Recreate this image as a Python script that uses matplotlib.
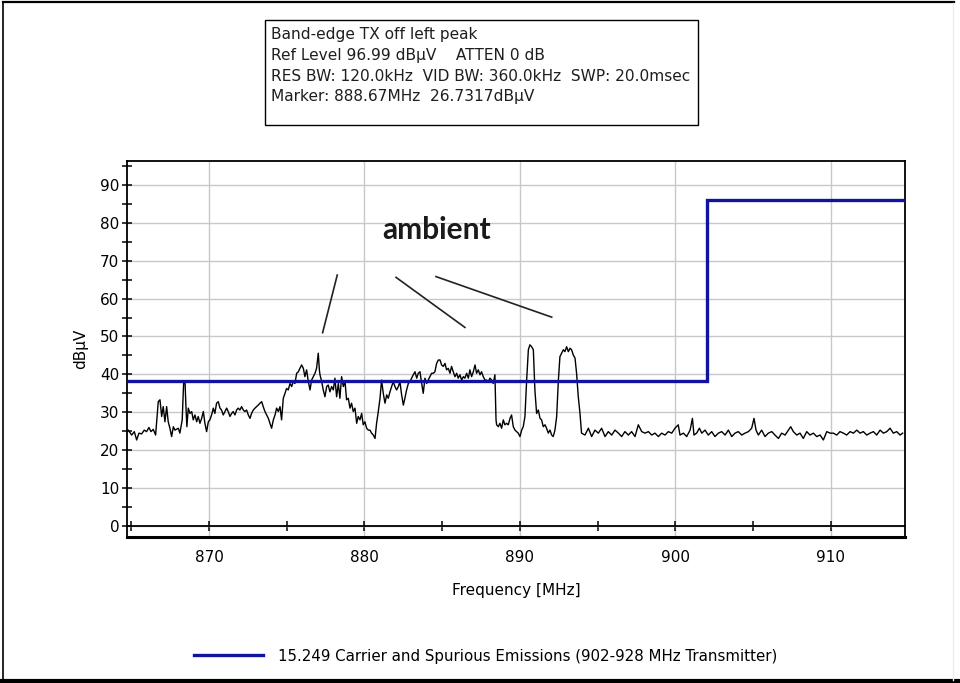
import matplotlib
matplotlib.use("Agg")
import matplotlib.pyplot as plt
from matplotlib.patches import Rectangle
from matplotlib.lines import Line2D
from matplotlib.ticker import MultipleLocator

plt.rcParams['font.family'] = ['DejaVu Sans']

# --- measured trace (MHz, dBuV) ---
freq = [864.81, 865.03, 865.20, 865.35, 865.50, 865.67, 865.84, 865.99, 866.14, 866.27,
        866.42, 866.57, 866.74, 866.85, 866.96, 867.06, 867.17, 867.28, 867.38, 867.49,
        867.60, 867.71, 867.81, 868.03, 868.13, 868.28, 868.37, 868.46, 868.52, 868.58,
        868.67, 868.78, 868.89, 868.99, 869.10, 869.21, 869.31, 869.42, 869.53, 869.64,
        869.74, 869.85, 869.96, 870.06, 870.17, 870.28, 870.38, 870.49, 870.60, 870.71,
        870.81, 870.92, 871.03, 871.14, 871.24, 871.35, 871.46, 871.56, 871.67, 871.78,
        871.88, 871.99, 872.10, 872.21, 872.31, 872.42, 872.53, 872.64, 872.74, 872.85,
        872.96, 873.07, 873.17, 873.28, 873.39, 873.49, 873.60, 873.71, 873.82, 873.92,
        874.03, 874.14, 874.25, 874.35, 874.46, 874.57, 874.67, 874.78, 874.89, 874.99,
        875.10, 875.21, 875.32, 875.42, 875.53, 875.64, 875.75, 875.85, 875.96, 876.07,
        876.17, 876.28, 876.39, 876.50, 876.60, 876.71, 876.82, 876.92, 877.03, 877.10,
        877.14, 877.25, 877.35, 877.46, 877.57, 877.67, 877.78, 877.89, 878.00, 878.10,
        878.21, 878.32, 878.42, 878.53, 878.64, 878.75, 878.85, 878.96, 879.07, 879.17,
        879.28, 879.39, 879.50, 879.60, 879.71, 879.82, 879.92, 880.03, 880.14, 880.25,
        880.35, 880.46, 880.57, 880.68, 880.78, 880.89, 881.00, 881.10, 881.21, 881.32,
        881.43, 881.53, 881.64, 881.75, 881.85, 881.96, 882.07, 882.18, 882.28, 882.39,
        882.50, 882.60, 882.71, 882.82, 882.93, 883.03, 883.14, 883.25, 883.36, 883.46,
        883.57, 883.68, 883.78, 883.89, 884.00, 884.10, 884.21, 884.32, 884.43, 884.53,
        884.64, 884.75, 884.86, 884.96, 885.07, 885.18, 885.28, 885.39, 885.50, 885.60,
        885.71, 885.82, 885.93, 886.03, 886.14, 886.25, 886.36, 886.46, 886.57, 886.68,
        886.78, 886.89, 887.00, 887.11, 887.21, 887.32, 887.43, 887.53, 887.64, 887.75,
        887.86, 887.96, 888.07, 888.18, 888.28, 888.39, 888.46, 888.50, 888.61, 888.71,
        888.82, 888.93, 889.03, 889.14, 889.25, 889.36, 889.46, 889.57, 889.68, 889.78,
        889.89, 890.00, 890.11, 890.21, 890.32, 890.43, 890.54, 890.64, 890.75, 890.86,
        890.96, 891.07, 891.18, 891.29, 891.39, 891.50, 891.61, 891.71, 891.82, 891.93,
        892.04, 892.14, 892.25, 892.36, 892.47, 892.57, 892.68, 892.79, 892.89, 893.00,
        893.11, 893.22, 893.32, 893.43, 893.54, 893.64, 893.75, 893.86, 893.96,
        894.18, 894.40, 894.61, 894.82, 895.04, 895.25, 895.47, 895.68, 895.90,
        896.11, 896.33, 896.54, 896.75, 896.97, 897.18, 897.40, 897.61, 897.83, 898.04,
        898.26, 898.47, 898.68, 898.90, 899.11, 899.33, 899.54, 899.76, 899.97, 900.18,
        900.29, 900.51, 900.72, 900.94, 901.09, 901.19, 901.36, 901.54, 901.69, 901.90,
        902.11, 902.33, 902.54, 902.76, 902.97, 903.19, 903.40, 903.62, 903.83, 904.04,
        904.26, 904.47, 904.69, 904.90, 905.05, 905.18, 905.33, 905.54, 905.76, 905.97,
        906.19, 906.40, 906.62, 906.83, 907.05, 907.26, 907.41, 907.58, 907.80, 908.01,
        908.22, 908.44, 908.65, 908.87, 909.08, 909.30, 909.51, 909.73, 909.94, 910.15,
        910.37, 910.58, 910.80, 911.01, 911.23, 911.44, 911.66, 911.87, 912.08, 912.30,
        912.51, 912.73, 912.94, 913.16, 913.37, 913.59, 913.80, 914.01, 914.23, 914.44,
        914.61]
level = [25.3, 24.0, 24.9, 22.7, 24.5, 24.3, 25.3, 24.9, 26.0, 24.9,
         25.5, 24.0, 32.8, 33.3, 28.9, 31.5, 27.5, 31.5, 27.5, 25.8,
         23.6, 26.2, 25.3, 25.8, 24.5, 28.0, 37.6, 38.1, 31.5, 26.2,
         31.1, 29.7, 30.2, 28.0, 29.3, 27.5, 28.9, 27.1, 28.4, 30.2,
         27.1, 24.9, 27.5, 28.0, 29.3, 31.1, 29.7, 32.4, 32.8, 31.1,
         30.6, 29.3, 30.2, 31.1, 30.2, 28.9, 29.7, 30.2, 29.3, 30.6,
         31.1, 30.6, 31.5, 30.6, 30.2, 30.6, 29.3, 28.4, 29.7, 30.6,
         31.1, 31.5, 31.9, 32.4, 32.8, 31.5, 30.2, 29.3, 28.4, 27.1,
         25.8, 28.0, 29.3, 31.1, 30.2, 31.5, 28.0, 33.7, 35.0, 36.3,
         35.9, 37.6, 36.8, 38.1, 37.6, 40.3, 40.7, 41.6, 42.5, 41.6,
         39.4, 41.2, 38.1, 35.9, 38.5, 39.4, 40.3, 41.6, 45.6, 41.2,
         39.9, 38.1, 35.9, 34.1, 36.8, 37.2, 35.4, 36.8, 35.9, 39.0,
         34.1, 37.6, 33.7, 39.4, 36.8, 38.1, 33.3, 33.7, 31.1, 32.4,
         30.2, 31.1, 27.1, 28.9, 28.0, 29.7, 26.7, 27.5, 25.8, 25.3,
         25.3, 24.5, 24.0, 23.1, 27.1, 30.2, 33.7, 38.5, 35.0, 32.4,
         34.6, 33.7, 35.4, 36.8, 38.1, 36.8, 35.9, 36.8, 38.1, 34.6,
         31.9, 33.7, 35.9, 37.6, 38.1, 39.0, 39.9, 40.7, 39.0, 40.3,
         40.7, 37.6, 35.0, 39.0, 37.6, 38.5, 39.4, 40.3, 40.3, 40.7,
         42.9, 43.8, 43.8, 42.5, 42.1, 42.9, 41.2, 41.6, 40.3, 42.1,
         40.7, 39.4, 40.3, 39.0, 39.9, 38.5, 39.4, 39.0, 40.3, 39.0,
         41.2, 39.4, 40.7, 42.5, 40.3, 41.2, 39.9, 40.7, 39.4, 38.5,
         38.5, 38.1, 39.0, 38.5, 37.6, 39.9, 28.0, 26.7, 26.2, 27.1,
         25.8, 28.0, 26.7, 27.1, 26.7, 28.4, 29.3, 26.2, 25.3, 24.9,
         24.5, 23.6, 25.3, 26.2, 28.9, 38.5, 46.5, 47.8, 47.3, 46.5,
         35.9, 29.7, 30.6, 28.4, 28.0, 26.2, 26.7, 25.8, 24.5, 25.3,
         24.0, 23.6, 25.3, 28.9, 38.5, 44.7, 45.6, 46.5, 46.0, 47.3,
         46.0, 46.9, 46.5, 45.1, 44.3, 40.3, 34.1, 29.7, 24.5,
         24.0, 25.8, 23.6, 25.3, 24.5, 25.8, 23.6, 24.9, 24.0,
         25.3, 24.5, 23.6, 24.9, 24.0, 24.9, 23.6, 26.7, 24.9, 24.5,
         24.9, 24.0, 24.5, 23.6, 24.5, 24.0, 24.9, 24.5, 25.8, 26.7,
         24.0, 24.5, 23.6, 25.3, 28.4, 24.0, 24.5, 25.8, 24.5, 25.3,
         24.0, 24.9, 23.6, 24.5, 24.9, 24.0, 25.3, 23.6, 24.5, 24.9,
         24.0, 24.5, 24.9, 25.8, 28.4, 25.3, 24.0, 25.3, 23.6, 24.5,
         24.9, 24.0, 23.1, 24.5, 24.0, 25.3, 26.2, 24.9, 24.0, 24.5,
         23.1, 24.9, 24.0, 24.5, 23.6, 24.0, 22.7, 24.9, 24.5, 24.5,
         24.0, 24.9, 24.5, 24.0, 24.9, 24.5, 25.3, 24.5, 24.9, 24.0,
         24.5, 24.9, 24.0, 25.3, 24.5, 24.9, 25.8, 24.5, 24.9, 24.0,
         24.5]

# --- 15.249 limit line ---
limit_edges = [864.73, 902.0, 914.76]
limit_levels = [38.3, 86.0]
limit_label = "15.249 Carrier and Spurious Emissions (902-928 MHz Transmitter)"

# --- hand drawn "ambient" strokes ---
stroke_x = [[878.25, 877.31], [882.03, 886.46], [884.60, 892.04]]
stroke_y = [[66.2, 51.0], [65.6, 52.4], [65.8, 55.1]]

header = ["Band-edge TX off left peak",
          "Ref Level 96.99 dB\u00b5V    ATTEN 0 dB",
          "RES BW: 120.0kHz  VID BW: 360.0kHz  SWP: 20.0msec",
          "Marker: 888.67MHz  26.7317dB\u00b5V"]

W, H = 960, 683
fig = plt.figure(figsize=(W / 100, H / 100), dpi=100)
fig.patch.set_facecolor('white')

# outer border of the screenshot
fig.add_artist(Line2D([3 / W, 3 / W], [0.004, 1 - 3 / H], color='black', lw=1.2))
fig.add_artist(Line2D([3 / W, 954 / W], [1 - 2 / H, 1 - 2 / H], color='black', lw=1.6))
fig.add_artist(Line2D([0, 1], [2.5 / H, 2.5 / H], color='black', lw=3))
fig.add_artist(Line2D([953 / W, 953 / W], [0.005, 0.995], color='#ececec', lw=1))

ax = fig.add_axes([127 / W, 1 - 537 / H, (905 - 127) / W, (537 - 161) / H])
ax.set_xlim(864.73, 914.76)
ax.set_ylim(-2.9, 96.3)

ax.grid(True, which='major', color='#c8c8c8', lw=1)
ax.set_axisbelow(True)

ax.plot(freq, level, color='black', lw=1.0, zorder=3)
ax.stairs(limit_levels, limit_edges, baseline=None, color='#1212a0', lw=2.4,
          label=limit_label, zorder=4)

for sx, sy in zip(stroke_x, stroke_y):
    ax.plot(sx, sy, color='#222222', lw=1.2, zorder=3)
ax.text(884.66, 78.1, "ambient", ha='center', va='center', fontsize=21.5,
        fontweight='bold', family=['Lato', 'DejaVu Sans'], color='#1a1a1a')

# axes frame: x axis sits on y=0, plus an outer box
ax.spines['bottom'].set_position(('data', 0))
for s in ax.spines.values():
    s.set_linewidth(1.3)
ax.plot([0, 1], [0, 0], transform=ax.transAxes, color='black', lw=2.2, clip_on=False)

ax.xaxis.set_major_locator(MultipleLocator(10))
ax.xaxis.set_minor_locator(MultipleLocator(5))
ax.yaxis.set_major_locator(MultipleLocator(10))
ax.yaxis.set_minor_locator(MultipleLocator(5))
ax.tick_params(which='both', direction='inout', length=7, width=1.1, labelsize=11)
ax.tick_params(axis='x', which='both', pad=14)
ax.tick_params(axis='y', which='both', pad=2)

ax.set_xlabel("Frequency [MHz]", fontsize=11, va='center')
ax.xaxis.set_label_coords(0.5, -0.141)
ax.set_ylabel("dB\u00b5V", fontsize=11, va='center')
ax.yaxis.set_label_coords(-0.060, 0.5)

# header box
fig.add_artist(Rectangle((265 / W, 1 - 125 / H), (698 - 265) / W, (125 - 20) / H,
                         fill=False, edgecolor='black', lw=1.0))
for i, line in enumerate(header):
    fig.text(271 / W, 1 - (35 + 20.6 * i) / H, line, fontsize=11.1, va='center',
             ha='left', color='#1e1e1e')

fig.legend(handles=[ax.get_legend_handles_labels()[0][0]], labels=[limit_label],
           loc='center left', bbox_to_anchor=(194 / W, 1 - 656 / H), frameon=False,
           fontsize=10.8, handlelength=4.6, handletextpad=1.0, borderpad=0, borderaxespad=0)

fig.savefig("out.png", dpi=100)
